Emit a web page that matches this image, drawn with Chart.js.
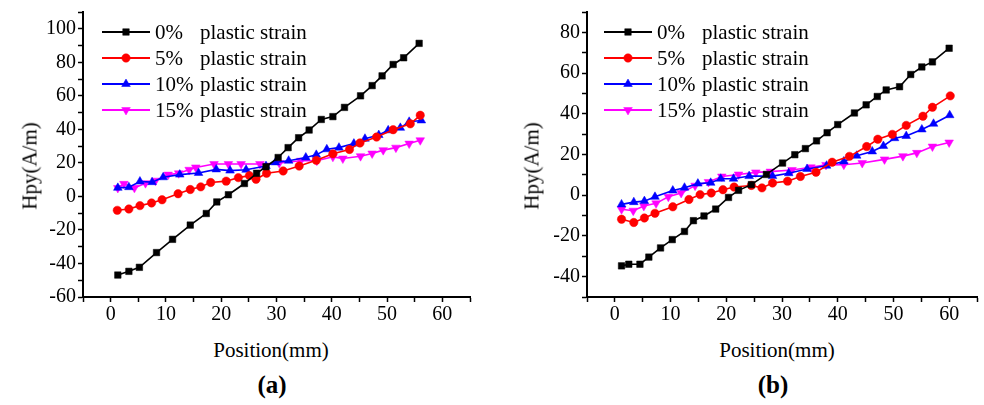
<!DOCTYPE html>
<html>
<head>
<meta charset="utf-8">
<script src="https://cdn.jsdelivr.net/npm/chart.js@4.4.1/dist/chart.umd.min.js"></script>
<style>
  html, body { margin: 0; padding: 0; background: #fff; }
  #wrap { position: relative; width: 984px; height: 405px; overflow: hidden; font-family: "Liberation Serif", "Times New Roman", serif; }
  canvas { position: absolute; top: 0; }
  .t { position: absolute; white-space: nowrap; color: #000; transform: translate(-50%, -50%); }
  .yt { transform: translate(-50%, -50%) rotate(-90deg); }
  .lbl { font-weight: bold; font-size: 25px; }
  .ax { font-size: 21px; }
</style>
</head>
<body>
<div id="wrap">
  <canvas id="ca" width="492" height="330" style="left:0px"></canvas>
  <canvas id="cb" width="492" height="330" style="left:492px"></canvas>
  <div class="t ax yt" style="left:30px; top:166px;">Hpy(A/m)</div>
  <div class="t ax yt" style="left:532px; top:166px;">Hpy(A/m)</div>
  <div class="t ax" style="left:271px; top:350px;">Position(mm)</div>
  <div class="t ax" style="left:777px; top:350px;">Position(mm)</div>
  <div class="t lbl" style="left:272px; top:385px;">(a)</div>
  <div class="t lbl" style="left:773px; top:385px;">(b)</div>
</div>
<script>
// ---------- Data (a) ----------
const seriesNames = ["0%", "5%", "10%", "15%"];
const legendSuffix = "plastic strain";

const posA0 = [1.3, 3.3, 5.2, 8.3, 11.2, 14.4, 17.3, 19.2, 21.3, 24.2, 26.4, 28.1, 30.3, 32.1, 34.0, 35.9, 38.1, 40.2, 42.3, 45.2, 47.3, 49.1, 51.1, 53.0, 55.8];
const hpyA0 = [-46.9, -44.7, -42.3, -33.5, -25.6, -17.1, -10.2, -3.3, 1.0, 7.7, 13.8, 17.7, 23.2, 29.1, 35.0, 39.6, 45.9, 47.6, 53.1, 60.0, 66.1, 71.9, 78.7, 82.7, 91.3];

const posA5 = [1.2, 3.3, 5.3, 7.4, 9.3, 12.2, 14.4, 16.3, 18.1, 20.9, 23.1, 25.1, 26.3, 28.2, 31.2, 34.1, 37.2, 40.2, 43.2, 45.1, 48.1, 51.1, 54.2, 56.0];
const hpyA5 = [-8.3, -7.5, -5.5, -3.9, -2.0, 1.6, 4.1, 5.7, 8.3, 9.1, 11.2, 12.4, 10.2, 13.8, 15.2, 18.1, 21.5, 25.4, 28.0, 31.9, 35.4, 39.8, 43.3, 48.4];

const posA10 = [1.3, 3.3, 5.3, 7.5, 9.5, 12.5, 15.9, 19.1, 21.6, 24.5, 28.1, 29.8, 32.2, 35.3, 37.2, 39.1, 41.3, 44.0, 46.0, 48.5, 50.2, 52.4, 54.0, 56.2];
const hpyA10 = [5.1, 5.5, 8.9, 8.5, 11.4, 13.0, 14.0, 16.1, 15.4, 15.9, 18.1, 20.3, 21.3, 23.2, 24.8, 28.1, 29.1, 31.5, 34.4, 36.6, 39.4, 40.9, 44.5, 45.3];

const posA15 = [1.3, 2.4, 4.3, 6.3, 8.1, 10.4, 12.3, 14.2, 15.4, 18.7, 21.3, 23.6, 27.0, 30.5, 34.4, 37.3, 40.2, 42.0, 45.2, 47.3, 49.3, 51.6, 54.0, 56.0];
const hpyA15 = [5.0, 7.5, 5.1, 7.9, 9.4, 13.0, 13.8, 15.9, 17.3, 19.3, 19.3, 19.3, 19.3, 19.9, 21.3, 21.3, 23.6, 22.6, 24.0, 25.6, 27.6, 29.1, 31.5, 33.5];

// ---------- Data (b) ----------
const posB0 = [1.2, 2.5, 4.5, 6.1, 8.2, 10.3, 12.5, 14.1, 16.0, 18.1, 20.4, 22.2, 24.5, 27.2, 30.1, 32.3, 34.2, 36.2, 38.1, 40.0, 43.0, 45.1, 47.1, 48.7, 51.1, 53.1, 55.1, 57.0, 60.0];
const hpyB0 = [-34.7, -33.9, -33.9, -30.4, -25.9, -21.8, -17.8, -12.5, -10.2, -6.8, -1.1, 2.4, 5.2, 10.2, 15.8, 19.9, 22.9, 26.7, 30.7, 34.7, 40.4, 44.4, 48.5, 51.7, 53.3, 59.3, 63.0, 65.5, 72.2];

const posB5 = [1.2, 3.4, 5.3, 7.2, 10.4, 13.3, 15.3, 17.3, 19.4, 21.4, 24.5, 26.4, 28.3, 31.0, 33.3, 36.1, 39.0, 42.1, 45.2, 47.2, 49.8, 52.3, 55.3, 57.0, 60.2];
const hpyB5 = [-11.8, -13.4, -11.2, -8.9, -5.7, -2.1, 0.3, 1.1, 2.7, 4.0, 4.8, 3.6, 6.0, 6.9, 9.2, 11.3, 16.2, 19.1, 23.9, 27.5, 29.9, 34.3, 38.8, 43.2, 48.8];

const posB10 = [1.2, 3.4, 5.3, 7.2, 10.4, 12.5, 14.9, 17.2, 19.0, 21.3, 24.1, 28.3, 31.2, 34.5, 38.0, 41.1, 43.4, 46.2, 48.2, 50.2, 52.3, 55.1, 57.2, 60.1];
const hpyB10 = [-4.5, -3.4, -2.9, -0.8, 2.3, 3.7, 5.7, 6.1, 8.1, 8.1, 9.4, 9.4, 10.8, 12.9, 14.5, 16.6, 19.4, 21.5, 24.2, 28.0, 29.1, 32.3, 35.1, 39.3];

const posB15 = [1.2, 3.3, 5.2, 7.4, 9.6, 11.9, 14.4, 16.8, 19.2, 22.2, 25.3, 27.9, 31.8, 35.2, 37.9, 41.1, 44.4, 48.4, 51.7, 54.2, 57.0, 60.0];
const hpyB15 = [-6.9, -7.6, -5.3, -4.0, -0.8, 1.1, 4.7, 6.5, 9.2, 10.2, 11.2, 11.6, 12.4, 13.7, 14.9, 15.0, 15.8, 17.6, 19.2, 20.8, 23.9, 25.9];

// ---------- Axis ranges / ticks ----------
const xRange = [-5, 65];
const xTickStep = 5, xLabelStep = 10;
const yRangeA = [-60, 110];
const yRangeB = [-50, 90];
const yTickStep = 10, yLabelStep = 20;

// ---------- Styles ----------
const colors = ["#000000", "#ff0000", "#0000ff", "#ff00ff"];
const pStyles = ["rect", "circle", "triangle", "triangle"];
const pRadius = [4.6, 4.2, 5, 5];
const pRot = [0, 0, 0, 180];

function pts(xs, ys) { return xs.map((x, i) => ({ x: x, y: ys[i] })); }

function makeDatasets(list) {
  return list.map((d, i) => ({
    label: seriesNames[i] + " " + legendSuffix,
    data: pts(d[0], d[1]),
    borderColor: colors[i],
    backgroundColor: colors[i],
    borderWidth: 1.6,
    pointStyle: pStyles[i],
    pointRadius: pRadius[i],
    pointRotation: pRot[i],
    pointBorderWidth: 0.5,
    pointBorderColor: colors[i],
    pointBackgroundColor: colors[i],
    tension: 0,
    fill: false
  }));
}

const FONT = "'Liberation Serif', 'Times New Roman', serif";

const insideLegend = {
  id: 'insideLegend',
  afterDatasetsDraw(chart, args, opts) {
    const ctx = chart.ctx;
    ctx.save();
    const x0 = opts.x, rows = opts.rows;
    chart.data.datasets.forEach((ds, i) => {
      const y = rows[i];
      ctx.strokeStyle = ds.borderColor;
      ctx.lineWidth = 2;
      ctx.beginPath();
      ctx.moveTo(x0, y);
      ctx.lineTo(x0 + 48, y);
      ctx.stroke();
      ctx.fillStyle = ds.backgroundColor;
      ctx.strokeStyle = ds.borderColor;
      ctx.lineWidth = 0.5;
      Chart.helpers.drawPoint(ctx, { pointStyle: ds.pointStyle, rotation: ds.pointRotation, radius: ds.pointRadius, borderWidth: 0.5 }, x0 + 24, y);
      ctx.fillStyle = '#000';
      ctx.font = "21px " + FONT;
      ctx.textBaseline = 'middle';
      ctx.textAlign = 'left';
      ctx.fillText(seriesNames[i], x0 + 53, y + 1);
      ctx.fillText(legendSuffix, x0 + 98, y + 1);
    });
    ctx.restore();
  }
};

function makeChart(id, datasets, yRange, yAxisWidth, padRight, legendX) {
  return new Chart(document.getElementById(id), {
    type: 'line',
    data: { datasets: datasets },
    plugins: [insideLegend],
    options: {
      responsive: false,
      animation: false,
      devicePixelRatio: 1,
      layout: { padding: { top: 10, right: padRight, left: 0, bottom: 0 } },
      plugins: {
        legend: { display: false },
        tooltip: { enabled: false },
        insideLegend: { x: legendX, rows: [32, 58, 84, 110] }
      },
      scales: {
        x: {
          type: 'linear',
          min: xRange[0], max: xRange[1],
          afterFit: (s) => { s.height = 33; },
          border: { display: true, color: '#000', width: 2 },
          grid: { drawOnChartArea: false, drawTicks: true, tickLength: 5, tickWidth: 1.5, tickColor: '#000' },
          ticks: {
            stepSize: xTickStep, autoSkip: false, maxRotation: 0, padding: 3,
            color: '#000', font: { family: FONT, size: 20, lineHeight: 1 },
            callback: (v) => (v % xLabelStep === 0 ? String(v) : '')
          }
        },
        y: {
          type: 'linear',
          min: yRange[0], max: yRange[1],
          afterFit: (s) => { s.width = yAxisWidth; },
          border: { display: true, color: '#000', width: 2 },
          grid: { drawOnChartArea: false, drawTicks: true, tickLength: 5, tickWidth: 1.5, tickColor: '#000' },
          ticks: {
            stepSize: yTickStep, autoSkip: false, padding: 2,
            color: '#000', font: { family: FONT, size: 20, lineHeight: 1 },
            callback: (v) => (v % yLabelStep === 0 ? String(v) : '')
          }
        }
      }
    }
  });
}

function drawAll() {
  makeChart('ca', makeDatasets([[posA0, hpyA0], [posA5, hpyA5], [posA10, hpyA10], [posA15, hpyA15]]), yRangeA, 83, 22, 102);
  makeChart('cb', makeDatasets([[posB0, hpyB0], [posB5, hpyB5], [posB10, hpyB10], [posB15, hpyB15]]), yRangeB, 95, 7, 112);
}

Promise.all([
  document.fonts.load("20px 'Liberation Serif'"),
  document.fonts.load("bold 25px 'Liberation Serif'")
]).then(drawAll, drawAll);
</script>
</body>
</html>
